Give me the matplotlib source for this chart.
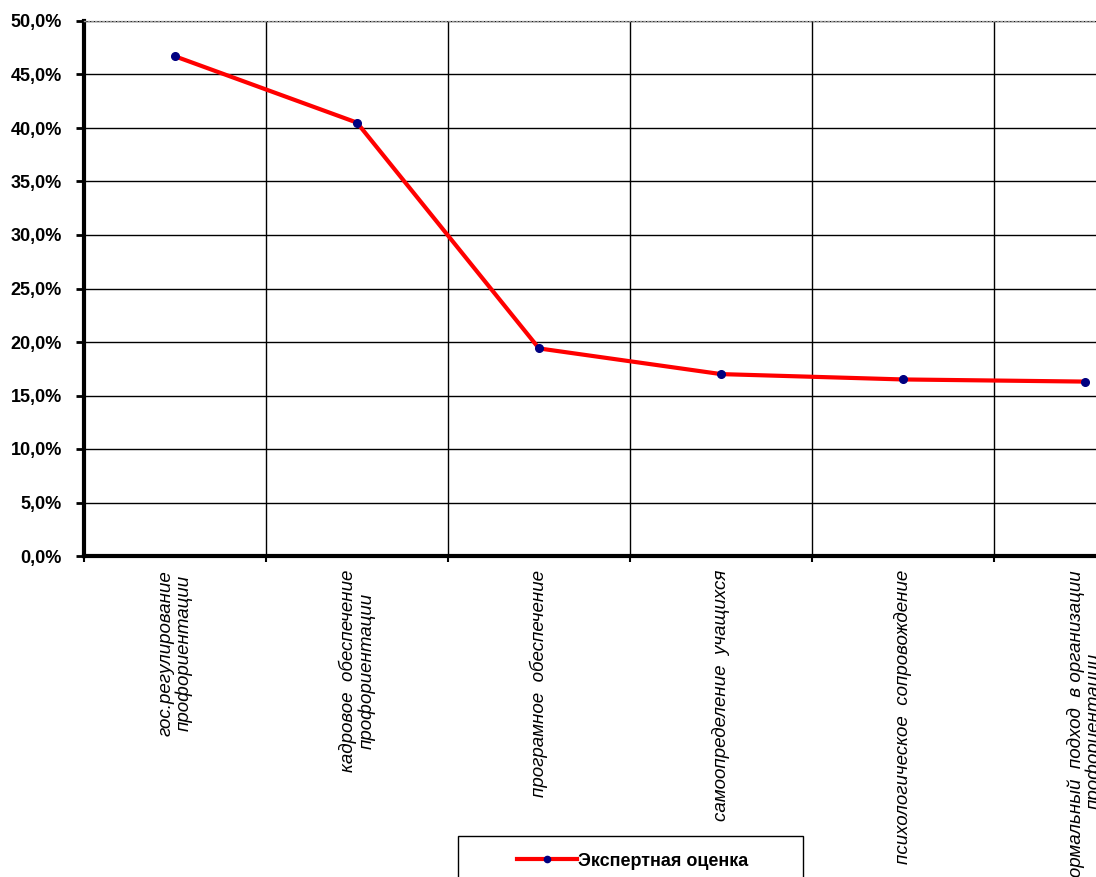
import numpy as np
import matplotlib.pyplot as plt
from matplotlib.ticker import FuncFormatter, FixedLocator
from matplotlib.patches import Rectangle
from matplotlib.lines import Line2D

plt.rcParams['font.family'] = ['Liberation Sans', 'DejaVu Sans']

# factors and their expert scores (percent)
categories = [
    "гос.регулирование\nпрофориентации",
    "кадровое  обеспечение\nпрофориентации",
    "програмное  обеспечение",
    "самоопределение  учащихся",
    "психологическое  сопровождение",
    "формальный  подход  в организации\nпрофориентации",
]
scores = [46.7, 40.5, 19.4, 17.0, 16.5, 16.3]
series_name = "Экспертная оценка"

fig = plt.figure(figsize=(10.96, 8.77), dpi=100)
W, H = 1096, 877
# plot area runs past the right edge of the canvas
ax = fig.add_axes([84 / W, (H - 556) / H, 1092 / W, 535 / H])

x = np.arange(len(categories))
ax.plot(x, scores, color='#ff0000', lw=3, marker='o', ms=5.5,
        mfc='#000080', mec='#000080', label=series_name, zorder=3)

ax.set_xlim(-0.5, len(categories) - 0.5)
ax.set_ylim(0, 50)
ax.set_yticks(np.arange(0, 50.1, 5))
ax.yaxis.set_major_formatter(FuncFormatter(lambda v, p: f"{v:.1f}%".replace('.', ',')))

# category boundaries carry the vertical grid
bounds = np.arange(-0.5, len(categories), 1.0)
ax.xaxis.set_major_locator(FixedLocator(bounds))
ax.set_xticklabels([])
ax.grid(True, axis='both', color='black', lw=1)
ax.set_axisbelow(True)

ax.tick_params(axis='y', direction='out', length=6, width=2, labelsize=13, pad=10)
ax.tick_params(axis='x', direction='out', length=4, width=1.5)
for lab in ax.get_yticklabels():
    lab.set_fontweight('bold')
    lab.set_verticalalignment('center_baseline')

ax.spines['left'].set_linewidth(3)
ax.spines['bottom'].set_linewidth(3)
ax.spines['top'].set_color('#999999')
ax.spines['top'].set_linestyle(':')
ax.spines['top'].set_linewidth(1)
ax.spines['right'].set_visible(False)

for xi, name in zip(x, categories):
    ax.text(xi, -1.3, name, rotation=90, ha='center', va='top',
            multialignment='center', fontsize=13.5, fontstyle='italic',
            linespacing=1.05, transform=ax.transData, clip_on=False)

# legend box, cut by the bottom edge of the canvas
fig.add_artist(Rectangle((458 / W, -0.02), 345 / W, 0.02 + (H - 836) / H,
                         transform=fig.transFigure, fill=False,
                         edgecolor='black', lw=1))
handle = Line2D([], [], color='#ff0000', lw=3, marker='o', ms=4.5,
                mfc='#000080', mec='#000080')
fig.legend([handle], [series_name], loc='center left',
           bbox_to_anchor=(508 / W, 1 - 861 / H), frameon=False,
           prop={'weight': 'bold', 'size': 13}, handlelength=3.3,
           handletextpad=0.1, borderpad=0)

fig.savefig('out.png', dpi=100)
